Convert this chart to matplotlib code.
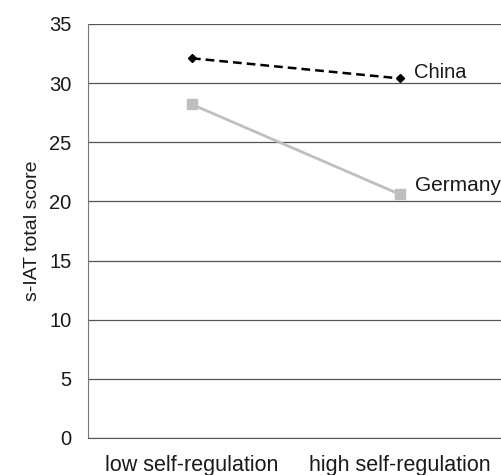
import matplotlib.pyplot as plt

plt.rcParams['font.family'] = ['Liberation Sans', 'DejaVu Sans']

categories = ['low self-regulation', 'high self-regulation']
china = [32.1, 30.4]
germany = [28.2, 20.6]
series_names = ['China', 'Germany']


def main():
	fig = plt.figure(figsize=(5.01, 4.75), dpi=100)
	ax = fig.add_axes([0.1756, 0.0779, 0.830, 0.8716])
	x = list(range(len(categories)))

	ax.plot(x, germany, color='#bfbfbf', lw=2, marker='s', ms=6.5, zorder=3)
	ax.plot(x, china, color='black', lw=1.8, ls=(0, (3.5, 2)), marker='D', ms=4, zorder=4)

	# series names next to the last point
	ax.annotate(series_names[0], (x[-1], china[-1]), xytext=(10, 4), textcoords='offset points',
				fontsize=14.5, va='center', color='#1a1a1a', annotation_clip=False)
	ax.annotate(series_names[1], (x[-1], germany[-1]), xytext=(11, 6), textcoords='offset points',
				fontsize=15, va='center', color='#1a1a1a', annotation_clip=False)

	ax.set_xlim(-0.5, 1.5)
	ax.set_ylim(0, 35)
	ax.set_yticks(range(0, 36, 5))
	ax.set_xticks(x)
	ax.set_xticklabels(categories)
	ax.yaxis.grid(True, color='#555555', lw=0.9)
	ax.set_axisbelow(True)
	for s in ['top', 'right']:
		ax.spines[s].set_visible(False)
	ax.spines['left'].set_color('#777777')
	ax.spines['bottom'].set_color('#555555')
	ax.tick_params(length=0, labelsize=14.5, colors='#1a1a1a', pad=12)
	ax.tick_params(axis='x', labelsize=15.5, pad=12)
	ax.set_ylabel('s-IAT total score', fontsize=14, color='#1a1a1a', labelpad=6)

	fig.savefig('out.png', dpi=100)
	plt.close(fig)


if __name__ == '__main__':
	main()
